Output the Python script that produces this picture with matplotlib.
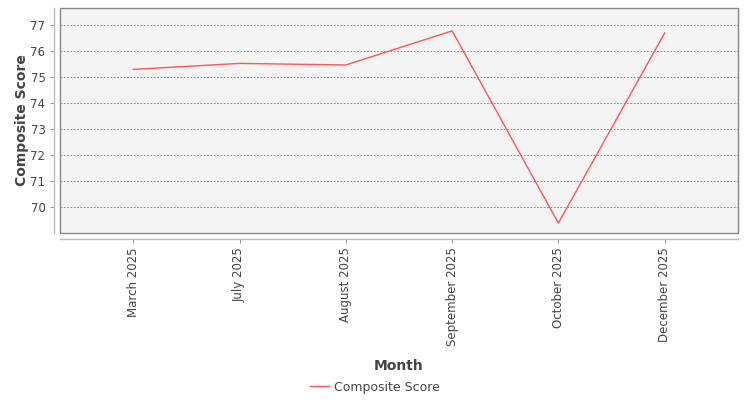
import matplotlib.pyplot as plt
from matplotlib.patches import Rectangle
from matplotlib.lines import Line2D

months = ['March 2025', 'July 2025', 'August 2025', 'September 2025', 'October 2025', 'December 2025']
scores = [75.29, 75.52, 75.46, 76.77, 69.38, 76.69]
yticks = [70, 71, 72, 73, 74, 75, 76, 77]

txt = '#444444'
fig = plt.figure(figsize=(7.5, 4), dpi=100)
ax = fig.add_axes([60 / 750, 1 - 233 / 400, 678 / 750, 225 / 400])
ax.set_facecolor('#f4f4f4')

x = list(range(len(months)))
ax.plot(x, scores, color='#ff5555', linewidth=1)

ax.set_xlim(-0.69, 5.69)
ax.set_ylim(69.0, 77.65)
ax.set_yticks(yticks)
ax.set_xticks(x)
ax.set_xticklabels(months)

ax.grid(axis='y', color='#777777', linestyle=(0, (2, 2)), linewidth=0.6)
ax.set_axisbelow(True)

for s in ['top', 'right']:
    ax.spines[s].set_visible(False)
for s in ['left', 'bottom']:
    ax.spines[s].set_position(('outward', 4))
    ax.spines[s].set_color('#bbbbbb')
    ax.spines[s].set_linewidth(1)
ax.add_patch(Rectangle((0, 0), 1, 1, transform=ax.transAxes, fill=False,
                       edgecolor='#888888', linewidth=1, clip_on=False, zorder=5))

ax.tick_params(axis='both', colors='#999999', labelcolor=txt, labelsize=8.5, length=3, width=0.8)
ax.tick_params(axis='x', labelrotation=90)

ax.set_ylabel('Composite Score', fontsize=10, fontweight='bold', color=txt, labelpad=1)
ax.set_xlabel('Month', fontsize=10, fontweight='bold', color=txt, labelpad=9)

handle = Line2D([], [], color='#ff5555', linewidth=1)
fig.legend([handle], ['Composite Score'], loc='center', bbox_to_anchor=(0.5, 1 - 387 / 400),
           frameon=False, fontsize=9, labelcolor=txt, handlelength=1.5, handletextpad=0.4)

fig.savefig('out.png', dpi=100)
